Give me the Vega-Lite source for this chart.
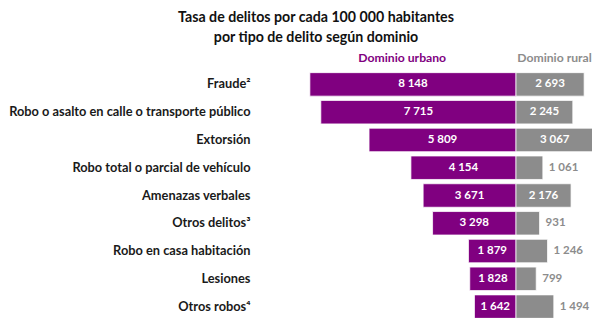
{
  "$schema": "https://vega.github.io/schema/vega-lite/v6.json",
  "autosize": "none",
  "padding": {"left": 260, "top": 70.5, "right": 0, "bottom": 0},
  "width": 332,
  "height": 250,
  "background": "white",
  "title": {
    "text": ["Tasa de delitos por cada 100 000 habitantes", "por tipo de delito según dominio"],
    "anchor": "middle",
    "frame": "group",
    "dx": -110,
    "font": "Lato",
    "fontSize": 14.2,
    "fontWeight": "bold",
    "color": "#111111",
    "lineHeight": 20,
    "offset": 6
  },
  "data": {
    "values": [
      {"delito": "Fraude²", "urbano": 8148, "rural": 2693},
      {"delito": "Robo o asalto en calle o transporte público", "urbano": 7715, "rural": 2245},
      {"delito": "Extorsión", "urbano": 5809, "rural": 3067},
      {"delito": "Robo total o parcial de vehículo", "urbano": 4154, "rural": 1061},
      {"delito": "Amenazas verbales", "urbano": 3671, "rural": 2176},
      {"delito": "Otros delitos³", "urbano": 3298, "rural": 931},
      {"delito": "Robo en casa habitación", "urbano": 1879, "rural": 1246},
      {"delito": "Lesiones", "urbano": 1828, "rural": 799},
      {"delito": "Otros robos⁴", "urbano": 1642, "rural": 1494}
    ]
  },
  "encoding": {
    "y": {"field": "delito", "type": "nominal", "sort": null,
          "scale": {"paddingInner": 0.155, "paddingOuter": 0.0775},
          "axis": {"title": null, "domain": false, "ticks": false, "labelPadding": 10, "labelFont": "Lato", "labelFontSize": 12.8, "labelFontWeight": "bold", "labelColor": "#1a1a1a", "labelLimit": 300}}
  },
  "layer": [
    {
      "mark": {"type": "bar", "color": "#800080", "stroke": "white", "strokeWidth": 0.75},
      "encoding": {
        "x": {"field": "urbano", "type": "quantitative",
              "scale": {"domain": [-3004, 10119], "reverse": true, "nice": false, "zero": false},
              "axis": {"orient": "top", "domain": false, "ticks": false, "labels": false, "grid": false,
                       "title": "Dominio urbano", "titleColor": "#800080", "titleFont": "Lato", "titleFontSize": 12.2, "titleFontWeight": "bold",
                       "titleX": 141.7, "titleY": -13.5, "titleAlign": "center", "titleBaseline": "middle"}}
      }
    },
    {
      "mark": {"type": "text", "color": "white", "font": "Lato", "fontSize": 11.5, "fontWeight": "bold", "align": "center", "baseline": "middle"},
      "encoding": {
        "x": {"field": "urbano", "type": "quantitative", "scale": {"domain": [-6008, 20238], "reverse": true, "nice": false, "zero": false}, "axis": null},
        "text": {"field": "urbano", "type": "quantitative", "format": ",d"}
      }
    },
    {
      "mark": {"type": "bar", "color": "#8c8c8c", "stroke": "white", "strokeWidth": 0.75, "clip": true},
      "encoding": {
        "x": {"field": "rural", "type": "quantitative",
              "scale": {"domain": [-10119, 3004], "nice": false, "zero": false},
              "axis": {"orient": "bottom", "domain": false, "ticks": false, "labels": false, "grid": false,
                       "title": "Dominio rural", "titleColor": "#8c8c8c", "titleFont": "Lato", "titleFontSize": 12.2, "titleFontWeight": "bold",
                       "titleX": 294, "titleY": -263.5, "titleAlign": "center", "titleBaseline": "middle"}}
      }
    },
    {
      "transform": [{"filter": "datum.rural >= 2000"}],
      "mark": {"type": "text", "color": "white", "font": "Lato", "fontSize": 11.5, "fontWeight": "bold", "align": "center", "baseline": "middle"},
      "encoding": {
        "x": {"field": "rural", "type": "quantitative", "scale": {"domain": [-20238, 6008], "nice": false, "zero": false}, "axis": null},
        "text": {"field": "rural", "type": "quantitative", "format": ",d"}
      }
    },
    {
      "transform": [{"filter": "datum.rural < 2000"}],
      "mark": {"type": "text", "color": "#8c8c8c", "font": "Lato", "fontSize": 11.5, "fontWeight": "bold", "align": "left", "baseline": "middle", "dx": 6},
      "encoding": {
        "x": {"field": "rural", "type": "quantitative", "scale": {"domain": [-10119, 3004], "nice": false, "zero": false}, "axis": null},
        "text": {"field": "rural", "type": "quantitative", "format": ",d"}
      }
    }
  ],
  "resolve": {"scale": {"x": "independent"}, "axis": {"x": "independent"}},
  "config": {
    "view": {"stroke": null},
    "locale": {"number": {"decimal": ".", "thousands": " ", "grouping": [3], "currency": ["$", ""]}}
  }
}
